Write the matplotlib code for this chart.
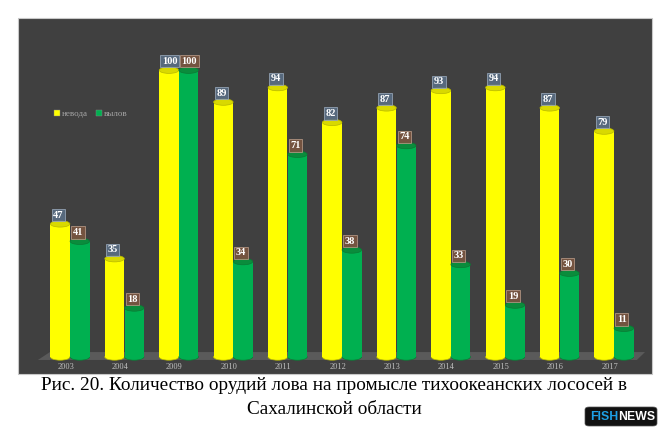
import matplotlib
matplotlib.use("Agg")
import matplotlib.pyplot as plt
from matplotlib.patches import Rectangle, Ellipse, Polygon, FancyBboxPatch
from matplotlib.lines import Line2D

years = ["2003", "2004", "2009", "2010", "2011", "2012", "2013", "2014", "2015", "2016", "2017"]
nevoda = [47, 35, 100, 89, 94, 82, 87, 93, 94, 87, 79]
vylov = [41, 18, 100, 34, 71, 38, 74, 33, 19, 30, 11]
series_names = ["невода", "вылов"]
caption_lines = ["Рис. 20. Количество орудий лова на промысле тихоокеанских лососей в",
                 "Сахалинской области"]

W, H = 668, 436
fig = plt.figure(figsize=(W / 100, H / 100), dpi=100)
fig.patch.set_facecolor("white")

# panel
px0, px1, py0, py1 = 18, 652, 18, 374
fig.patches.append(Rectangle((px0 / W, 1 - py1 / H), (px1 - px0) / W, (py1 - py0) / H,
                             transform=fig.transFigure, facecolor="#404040",
                             edgecolor="#c8c8c8", linewidth=0.8, zorder=-5))

ax = fig.add_axes([px0 / W, 1 - py1 / H, (px1 - px0) / W, (py1 - py0) / H])
ax.set_zorder(2)
ax.set_facecolor("none")
for s in ax.spines.values():
    s.set_visible(False)
ax.set_xticks([])
ax.set_yticks([])
ppu = 2.9  # pixels per unit
gap = 54.4
ax.set_xlim((px0 - 70) / gap, (px1 - 70) / gap)
ax.set_ylim(-(py1 - 357) / ppu, (357 - py0) / ppu)

# floor
floor = Polygon([(-0.59, -1.03), (10.42, -1.03), (10.57, 1.7), (-0.37, 1.7)],
                closed=True, facecolor="#5a5a5a", edgecolor="none", zorder=1)
ax.add_patch(floor)

bw = 0.358
off = 0.181
eh = 2.2
styles = [
    dict(face="#ffff00", top="#d9d900", edge="#b8b800", box="#5a6e84", boxedge="#9aaabb"),
    dict(face="#00b050", top="#0a8c3c", edge="#0a7a34", box="#7a5640", boxedge="#b89a88"),
]
for si, vals in enumerate([nevoda, vylov]):
    st = styles[si]
    for i, v in enumerate(vals):
        xc = i + (-off if si == 0 else off)
        top = v - eh / 2
        ax.add_patch(Rectangle((xc - bw / 2, 0), bw, top, facecolor=st["face"],
                               edgecolor="none", zorder=3 + si))
        ax.add_patch(Ellipse((xc, 0), bw, eh, facecolor=st["face"], edgecolor=st["edge"],
                             linewidth=0.5, zorder=2.9 + si))
        ax.add_patch(Ellipse((xc, top), bw, eh, facecolor=st["top"], edgecolor=st["edge"],
                             linewidth=0.5, zorder=3.1 + si))
        ax.text(xc - bw / 2 + 0.05, v + 0.4, str(v), ha="left", va="bottom",
                fontsize=7.5, fontweight="bold", color="white", family="Liberation Serif",
                zorder=10,
                bbox=dict(boxstyle="square,pad=0.15", facecolor=st["box"], alpha=0.9,
                          edgecolor=st["boxedge"], linewidth=0.6))

for i, y in enumerate(years):
    ax.text(i - 0.08, -3.45, y, ha="center", va="center", fontsize=6,
            color="#c0c0c0", family="Liberation Serif")

handles = [Line2D([], [], marker="s", linestyle="none", markersize=4.5,
                  markerfacecolor=styles[k]["face"], markeredgecolor="#888888",
                  markeredgewidth=0.3)
           for k in range(2)]
leg = ax.legend(handles, series_names, ncol=2, frameon=False,
                handlelength=0.6, handletextpad=0.2, columnspacing=1.0,
                labelcolor="#a6a6a6", loc="center left",
                bbox_to_anchor=(46 / W, 1 - 114 / H), bbox_transform=fig.transFigure,
                prop={"family": "Liberation Serif", "size": 6.5})

for k, (line, ypx) in enumerate(zip(caption_lines, [385, 409])):
    fig.text(334 / W, 1 - ypx / H, line, ha="center", va="center", fontsize=13.9,
             family="Liberation Serif", color="black")

# logo
fig.patches.append(FancyBboxPatch((585 / W, 1 - 426 / H), 72 / W, 19 / H,
                                  boxstyle="round,pad=0,rounding_size=0.006",
                                  transform=fig.transFigure, facecolor="#111111",
                                  edgecolor="#555555", linewidth=0.5))
t1 = fig.text(590 / W, 1 - 416.5 / H, "FISH", ha="left", va="center", fontsize=8.8,
              fontweight="bold", color="#1ea0e6", family="Liberation Sans")
fig.canvas.draw()
bb = t1.get_window_extent()
fig.text((bb.x1 + 0.3) / W, 1 - 416.5 / H, "NEWS", ha="left", va="center", fontsize=8.8,
         fontweight="bold", color="white", family="Liberation Sans")

fig.savefig("out.png", dpi=100, facecolor="white")
